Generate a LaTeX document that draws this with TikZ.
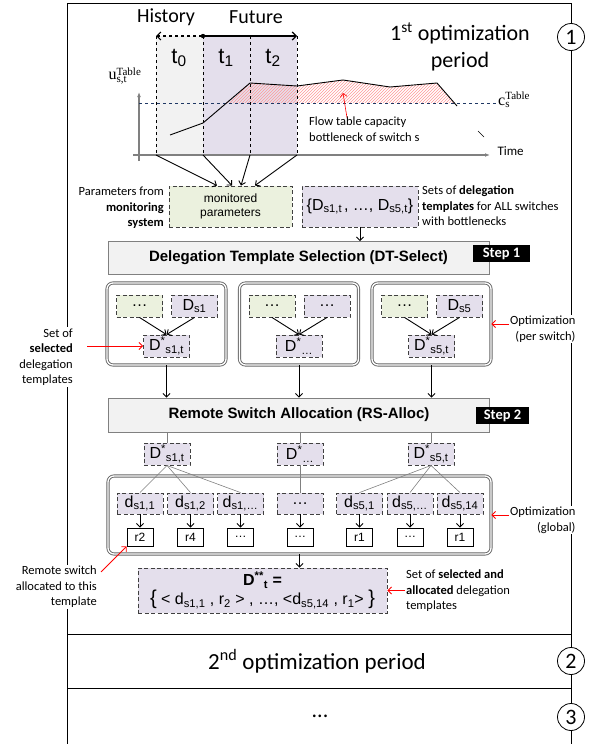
\documentclass[tikz,border=0pt]{standalone}
\usepackage{fontspec}
\setmainfont{Carlito}
\setsansfont{Liberation Sans}
\newfontfamily\serifface{Liberation Serif}
\usetikzlibrary{arrows.meta,patterns,positioning}
\definecolor{lpurple}{HTML}{E4DFEC}
\definecolor{lgreen}{HTML}{EBF1DE}
\definecolor{lgray}{HTML}{F2F2F2}
\definecolor{dgray}{HTML}{404040}
\definecolor{capblue}{HTML}{1F3864}
\newcommand\fsz[2]{\fontsize{#1}{#2}\selectfont}
\newcommand\tablevar[2]{$\mbox{\serifface\fsz{16}{18}#1}^{\mbox{\serifface\fsz{11}{11}Table}}_{\mbox{\serifface\fsz{11}{11}#2}}$}
\tikzset{
  conn/.style={-{Straight Barb[length=3.5pt,width=7pt]},line width=.9pt},
  redarr/.style={conn,red,line width=.8pt},
  dbox/.style={draw=dgray,dash pattern=on 4pt off 2.5pt,line width=.9pt,fill=lpurple,
    minimum width=46,minimum height=22,inner sep=0pt,font=\sffamily\fsz{16}{18}},
  gbox/.style={dbox,fill=lgreen},
  rbox/.style={draw,line width=.8pt,fill=white,minimum width=26,minimum height=18,
    inner sep=0pt,font=\sffamily\fsz{12}{14}},
  stage/.style={draw=gray,line width=.8pt,fill=lgray,minimum width=381,minimum height=33,
    font=\sffamily\bfseries\fsz{15}{18}},
  stepbox/.style={fill=black,text=white,minimum height=17,inner sep=0pt,font=\bfseries\fsz{14.5}{16}},
  optbox/.style={draw=dgray!80,double=white,double distance=1.3pt,line width=.9pt,rounded corners=6pt},
  note/.style={fill=white,inner sep=1pt,font=\fsz{12.5}{15.5}},
  link/.style={gray,line width=.6pt},
  period/.style={font=\fsz{22}{27}},
  num/.style={circle,draw,line width=.8pt,fill=white,inner sep=0pt,minimum size=27,font=\fsz{22}{22}},
}

\begin{document}
\begin{tikzpicture}[x=1pt,y=-1pt]
  \useasboundingbox (0,0) rectangle (595,744);

  % frame of the periods
  \draw[line width=.8pt] (67,744) -- (67,3) -- (571,3) -- (571,744);
  \draw[line width=.8pt] (67,634) -- (571,634) (67,688) -- (571,688);
  \node[period,align=center] (p1) at (460,47) {1\textsuperscript{st} optimization\\period};
  \node[period,font=\fsz{23}{27}] (p2) at (317,661) {2\textsuperscript{nd} optimization period};
  \node[period] (p3) at (320,716) {...};
  \node[num] (n1) at (571,37) {1};
  \node[num] (n2) at (571,661) {2};
  \node[num] (n3) at (571,717) {3};

  % utilization chart
  \fill[lgray] (156,36) rectangle (203,155);
  \fill[lpurple] (203,36) rectangle (297,155);
  \fill[pattern=north east lines,pattern color=red!40]
    (226.5,103) -- (250,83) -- (297,86) -- (343,80) -- (390,87) -- (437,83) -- (454,103) -- cycle;
  \foreach \x [count=\k from 0] in {156,203,250,297}
    \draw[dashed,line width=.7pt] (\x,36) -- (\x,155) coordinate (col\k);
  \draw[gray,line width=1.2pt,-{Latex[length=5pt]}] (139,161) -- (139,92);
  \draw[gray,line width=1.2pt,-{Latex[length=5pt]}] (133,155) -- (490,155);
  \draw[capblue,dashed,line width=.7pt] (139,103) -- (497,103);
  \draw[line width=.9pt] (170,135) -- (203,123) -- (250,83) -- (297,86) -- (343,80)
    -- (390,87) -- (437,83) -- (457,106);
  \draw[line width=1.2pt,dashed,{Straight Barb[length=4pt,width=8pt]}-] (156,36) -- (203,36);
  \draw[line width=1.2pt,-{Straight Barb[length=4pt,width=8pt]}] (203,36) -- (297,36);
  \fill (203,36) circle (2.2);
  \node[font=\fsz{20}{24}] (hist) at (166,17) {History};
  \node[font=\fsz{20}{24}] (fut) at (256,17) {Future};
  \foreach \x [count=\k from 0] in {179,226,273}
    \node[font=\sffamily\fsz{22}{24}] (t\k) at (\x,58) {t\textsubscript{\k}};
  \node (ulab) at (125,76) {\tablevar{u}{s,t}};
  \node[anchor=west,inner sep=1pt] (clab) at (497,100) {\tablevar{c}{s}};
  \node[font=\fsz{13}{15},anchor=west] (time) at (494,151) {Time};
  \node[note,fill=none,align=left,anchor=west] (flow) at (308,129) {Flow table capacity\\bottleneck of switch s};
  \coordinate (hatch) at (343,93);
  \draw[redarr,line width=.6pt] (flow.north west) ++(39pt,-2pt) -- (hatch);
  \draw (478,131) -- (484,137);

  % inputs of the selection
  \node[gbox,minimum width=123,minimum height=41,font=\sffamily\fsz{12}{14},align=center] (mon)
    at (230.5,206.5) {monitored\\parameters};
  \node[dbox,minimum width=116,minimum height=41] (tset) at (360,206.5)
    {\{D\textsubscript{s1,t\,}, …, D\textsubscript{s5,t}\}};
  \draw[conn] (col0) -- ([xshift=-13.5pt]mon.north);
  \draw[conn] (col1) -- ([xshift=1.5pt]mon.north);
  \draw[conn] (col2) -- ([xshift=10.5pt]mon.north);
  \draw[conn] (col3) -- ([xshift=24.5pt]mon.north);
  \node[note,align=right,anchor=east] (params) at (165,208) {Parameters from\\\textbf{monitoring}\\\textbf{system}};
  \node[note,align=left,anchor=west] (sets) at (421,206) {Sets of \textbf{delegation}\\\textbf{templates} for ALL switches\\with bottlenecks};

  % step 1
  \node[stage] (dts) at (298.5,258) {Delegation Template Selection (DT-Select)\hspace{10pt}};
  \node[stepbox,minimum width=57] (step1) at (501.5,253.5) {Step 1};
  \draw[conn] (tset.south) -- (tset.south |- dts.north);
  \node[stage,minimum height=34] (rsa) at (299,415) {Remote Switch Allocation (RS-Alloc)};
  \node[stepbox,minimum width=53] (step2) at (502.5,415.5) {Step 2};

  \foreach \cx/\i/\tpl/\sel in {166.5/1/{D\textsubscript{s1}}/{D\textsuperscript{*}\textsubscript{s1,t}},
      299/2/{…}/{D\textsuperscript{*}\textsubscript{…}},
      431.5/3/{D\textsubscript{s5}}/{D\textsuperscript{*}\textsubscript{s5,t}}} {
    \node[optbox,minimum width=119,minimum height=82] (sw\i) at (\cx,324) {};
    \node[gbox] (oth\i) at (\cx-27,306) {…};
    \node[dbox] (tpl\i) at (\cx+28,306) {\tpl};
    \node[dbox] (sel\i) at (\cx,346) {\sel};
    \draw[conn] (oth\i.south) -- (sel\i.north);
    \draw[conn] (tpl\i.south) -- (sel\i.north);
    \draw[conn] (sw\i.south) -- (sw\i.south |- rsa.north);
  }
  \node[note,align=right,anchor=east] (selnote) at (74,357) {Set of\\\textbf{selected}\\delegation\\templates};
  \draw[redarr] (sel1.west -| selnote.east) ++(13pt,0) -- (sel1.west);
  \node[note,align=right,anchor=west] (optsw) at (509,329) {Optimization\\(per switch)};
  \draw[redarr] (optsw.west |- sw3.east) -- (sw3.east);

  % step 2
  \foreach \x/\i/\sel in {167/1/{D\textsuperscript{*}\textsubscript{s1,t}},
      300/2/{D\textsuperscript{*}\textsubscript{…}},
      431/3/{D\textsuperscript{*}\textsubscript{s5,t}}} {
    \node[dbox] (pick\i) at (\x,454) {\sel};
    \draw[link] (pick\i.north |- rsa.south) -- (pick\i.north);
  }
  \node[optbox,minimum width=383,minimum height=78] (glob) at (299.5,515) {};
  \foreach \x/\dn/\rn/\p [count=\k] in {140/{d\textsubscript{s1,1}}/r2/1,
      190.5/{d\textsubscript{s1,2}}/r4/1, 240.5/{d\textsubscript{s1,…}}/…/1, 300/…/…/2,
      359.5/{d\textsubscript{s5,1}}/r1/3, 410/{d\textsubscript{s5,…}}/…/3,
      460/{d\textsubscript{s5,14}}/r1/3} {
    \node[dbox,minimum height=21] (d\k) at (\x,503.5) {\dn};
    \node[rbox] (r\k) at (\x,537) {\rn};
    \draw[link] (pick\p.south) -- (d\k.north);
    \draw[conn] (d\k.south) -- (r\k.north);
  }
  \node[dbox,minimum width=249,minimum height=45,align=center,font=\sffamily\fsz{16}{19}] (final)
    at (262.5,590.5) {\textbf{D\textsuperscript{**}\textsubscript{t} =}\\
    {\fsz{20}{19}\{} < d\textsubscript{s1,1} , r\textsubscript{2} > , …, <d\textsubscript{s5,14} , r\textsubscript{1}> {\fsz{20}{19}\}}};
  \draw[conn] (glob.south) -- (glob.south |- final.north);
  \node[note,align=right,anchor=west] (optgl) at (509,520) {Optimization\\(global)};
  \draw[redarr] (optgl.west |- glob.east) -- (glob.east);
  \node[note,align=left,anchor=west] (finnote) at (405,591) {Set of \textbf{selected and}\\\textbf{allocated} delegation\\templates};
  \draw[redarr] (finnote.west |- final.east) -- (final.east);
  \node[note,align=right,anchor=east] (rnote) at (98,587) {Remote switch\\allocated to this\\template};
  \draw[redarr] (rnote.north east) ++(3pt,-7pt) -- (r1.south west);
\end{tikzpicture}
\end{document}
